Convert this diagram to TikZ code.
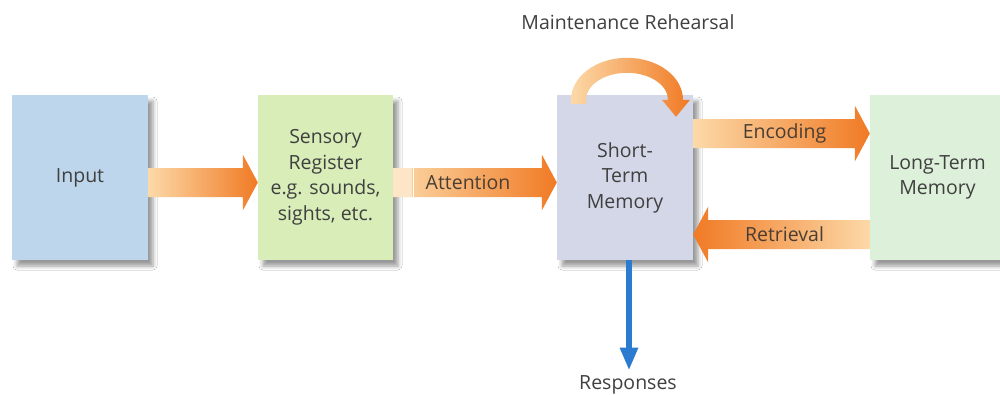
\documentclass[tikz,border=0pt]{standalone}
\usepackage{fontspec}
\setmainfont{Open Sans}
\usetikzlibrary{calc,arrows.meta,shadows.blur}
\definecolor{inputc}{HTML}{BED6EC}
\definecolor{sensc}{HTML}{D8EDB8}
\definecolor{stmc}{HTML}{D3D7E7}
\definecolor{ltmc}{HTML}{DDF0DA}
\definecolor{txt}{HTML}{404040}
\definecolor{labc}{HTML}{4A3E34}
\definecolor{olight}{HTML}{FCD9A8}
\definecolor{omid}{HTML}{F6A962}
\definecolor{odark}{HTML}{F07A24}
\definecolor{apale}{HTML}{FDE6C8}
\definecolor{bluec}{HTML}{2B7BD0}
\begin{document}
\begin{tikzpicture}[x=1pt,y=-1pt,
  box/.style={minimum width=136pt, minimum height=165pt, inner sep=0pt, align=center,
    text=txt, font=\fontsize{19.5}{25.5}\selectfont,
    blur shadow={shadow xshift=5pt, shadow yshift=-6pt, shadow blur radius=4pt, shadow opacity=40}},
  lab/.style={text=labc, font=\fontsize{19.5}{22}\selectfont, inner sep=0pt},
  plain/.style={text=txt, font=\fontsize{19.5}{22}\selectfont, inner sep=0pt},
  oshadeR/.style={left color=olight, middle color=omid, right color=odark},
  oshadeL/.style={left color=odark, middle color=omid, right color=olight},
  barR/.style={to path={($(\tikztostart)+(0,-14.5)$) -- ($(\tikztotarget)+(-15,-14.5)$) -- ($(\tikztotarget)+(-15,-28)$) -- (\tikztotarget) -- ($(\tikztotarget)+(-15,28)$) -- ($(\tikztotarget)+(-15,14.5)$) -- ($(\tikztostart)+(0,14.5)$) -- cycle}},
  barL/.style={to path={($(\tikztostart)+(0,-14.5)$) -- ($(\tikztotarget)+(15,-14.5)$) -- ($(\tikztotarget)+(15,-28)$) -- (\tikztotarget) -- ($(\tikztotarget)+(15,28)$) -- ($(\tikztotarget)+(15,14.5)$) -- ($(\tikztostart)+(0,14.5)$) -- cycle}}
]
\useasboundingbox (0,0) rectangle (1000,394);
\fill[white] (0,0) rectangle (1000,394);

% boxes
\node[box, fill=inputc] (in) at (80,177.5) {Input};
\node[box, fill=sensc, minimum width=135pt] (sr) at (325.5,177.5) {Sensory\\Register\\e.g. sounds,\\sights, etc.};
\node[box, fill=stmc] (stm) at (625,177.5) {Short-\\Term\\Memory};
\node[box, fill=ltmc, minimum width=135pt] (ltm) at (937.5,177.5) {Long-Term\\Memory};

% texts
\node[plain] (mr) at (628,22) {Maintenance Rehearsal};
\node[plain] (resp) at (628,385) {Responses};

% arrow coordinates
\coordinate (a1s) at ($(in.east)+(0,5)$);
\coordinate (a1e) at ($(sr.west)+(0,5)$);
\coordinate (a2s) at ($(sr.east)+(0,5)$);
\coordinate (a2e) at ($(stm.west)+(0,5)$);
\coordinate (a3s) at ($(stm.east)+(0,-44)$);
\coordinate (a3e) at ($(ltm.west)+(0,-44)$);
\coordinate (a4s) at ($(ltm.west)+(0,57)$);
\coordinate (a4e) at ($(stm.east)+(0,57)$);

% input -> sensory
\shade[oshadeR] (a1s) to[barR] (a1e);
% attention
\shade[oshadeR] (a2s) to[barR] (a2e);
\fill[apale] ($(a2s)+(0,-14.5)$) rectangle ($(a2s)+(19,14.5)$);
\draw[white, line width=1pt] ($(a2s)+(20,-14.5)$) -- ($(a2s)+(20,14.5)$);
\node[lab] at ($(a2s)!0.5!(a2e)+(-7,0)$) {Attention};
% encoding
\shade[oshadeR] (a3s) to[barR] (a3e);
\node[lab] at ($(a3s)!0.5!(a3e)+(3,0)$) {Encoding};
% retrieval
\shade[oshadeL] (a4s) to[barL] (a4e);
\node[lab] at ($(a4s)!0.5!(a4e)+(3,0)$) {Retrieval};

% maintenance rehearsal loop
\coordinate (arcC) at ($(stm.north)+(2,5)$);
\shade[left color=olight, right color=odark]
  ($(arcC)+(-56,4)$) -- ($(arcC)+(-56,0)$)
  arc[start angle=180, end angle=360, x radius=56, y radius=42]
  -- ($(arcC)+(63,0)$) -- ($(arcC)+(49,17)$) -- ($(arcC)+(35,0)$) -- ($(arcC)+(41,0)$)
  arc[start angle=360, end angle=180, x radius=41, y radius=27]
  -- ($(arcC)+(-41,4)$) -- cycle;

% responses
\coordinate (rtip) at ($(resp.north)+(1,-5)$);
\draw[bluec, line width=6pt, -{Triangle[width=17pt,length=23pt]}] (stm.south -| rtip) -- (rtip);
\end{tikzpicture}
\end{document}
